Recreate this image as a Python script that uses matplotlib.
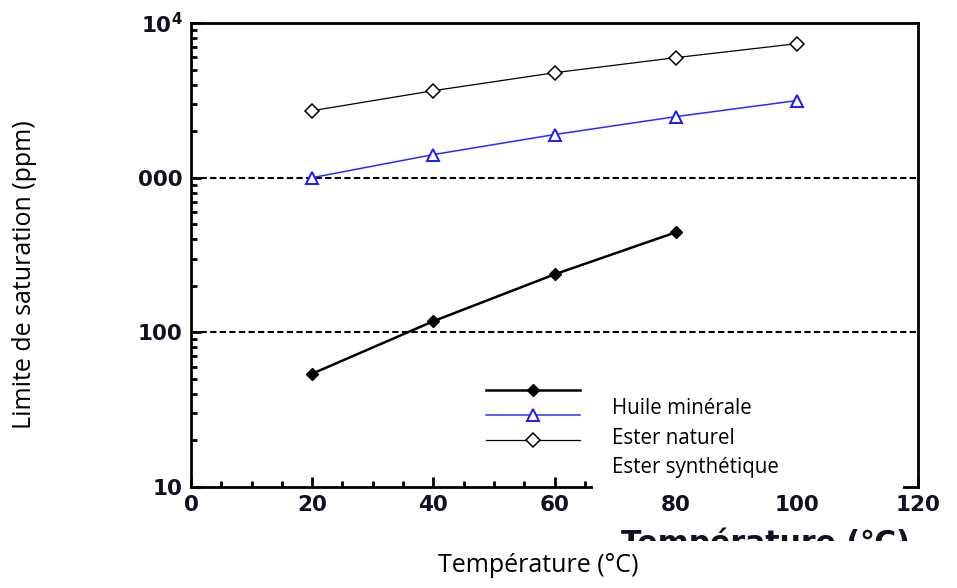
import matplotlib
matplotlib.use("Agg")
import matplotlib.pyplot as plt
from matplotlib.patches import Rectangle
from matplotlib.ticker import FixedLocator, FixedFormatter, MultipleLocator, LogLocator, NullFormatter

# data
temperature = [20, 40, 60, 80, 100]
huile_minerale = [54, 118, 237, 443]          # only up to 80 C
ester_naturel = [1000, 1410, 1900, 2480, 3150]
ester_synthetique = [2710, 3650, 4770, 5970, 7350]

series_labels = ["Huile minérale", "Ester naturel", "Ester synthétique"]
y_ticks = [10, 100, 1000, 10000]
y_ticklabels = ["10", "100", "000", r"$\mathbf{10^4}$"]
x_ticks = [0, 20, 40, 60, 80, 100, 120]

W, H = 957, 588
fig = plt.figure(figsize=(W / 100, H / 100), dpi=100)
ax = fig.add_axes([191 / W, 1 - 487 / H, (918 - 191) / W, (487 - 23) / H])

l1, = ax.plot(temperature[:len(huile_minerale)], huile_minerale, color="black", lw=1.8,
              marker="D", ms=6.5, mfc="black", mec="black")
l2, = ax.plot(temperature, ester_naturel, color="#2b2bff", lw=1.1,
              marker="^", ms=9, mfc="white", mec="#1a1aff", mew=1.4)
l3, = ax.plot(temperature, ester_synthetique, color="black", lw=0.9,
              marker="D", ms=7, mfc="white", mec="black", mew=1.1)

# dashed reference lines
for yv in y_ticks[1:]:
    ax.axhline(yv, color="black", lw=1.5, dashes=(3, 1.6), zorder=1)

ax.set_yscale("log")
ax.set_xlim(0, 120)
ax.set_ylim(10, 10000)
ax.yaxis.set_major_locator(FixedLocator(y_ticks))
ax.yaxis.set_major_formatter(FixedFormatter(y_ticklabels))
ax.yaxis.set_minor_locator(LogLocator(base=10, subs=range(2, 10)))
ax.yaxis.set_minor_formatter(NullFormatter())
ax.xaxis.set_major_locator(FixedLocator(x_ticks))
ax.xaxis.set_minor_locator(MultipleLocator(5))

for sp in ax.spines.values():
    sp.set_linewidth(2.0)
ax.tick_params(which="both", direction="in", top=False, right=False, width=2.0)
ax.tick_params(which="major", length=7, pad=6, labelsize=15.5)
ax.tick_params(which="minor", length=4.5)
for lab in ax.get_xticklabels() + ax.get_yticklabels():
    lab.set_fontweight("bold")
    lab.set_color("#111122")

# legend samples (text is added separately)
leg = ax.legend([l1, l2, l3], ["", "", ""], frameon=False, fontsize=10,
                handlelength=6.8, handletextpad=0, labelspacing=0.78,
                borderpad=0, borderaxespad=0, loc="upper left",
                bbox_to_anchor=(486 / W, 1 - 384 / H), bbox_transform=fig.transFigure)

# white box over part of the old legend and axis
fig.patches.append(Rectangle((593 / W, 1 - 489 / H), (903 - 593) / W, (489 - 383) / H,
                             transform=fig.transFigure, facecolor="white",
                             edgecolor="none", zorder=5))

for i, lab in enumerate(series_labels):
    fig.text(612 / W, 1 - (409 + 29 * i) / H, lab, fontsize=14.8, family="Open Sans",
             va="center", ha="left", zorder=6)

# old bold axis title, cut off at the bottom
fig.text(765 / W, 1 - 552 / H, "Température (℃)", fontsize=21.5, fontweight="bold",
         color="#111122", ha="center", va="baseline", zorder=4)
fig.patches.append(Rectangle((560 / W, 0), (957 - 560) / W, (588 - 541) / H,
                             transform=fig.transFigure, facecolor="white",
                             edgecolor="none", zorder=5))

fig.text(538 / W, 1 - 565 / H, "Température (°C)", fontsize=18, family="Open Sans",
         ha="center", va="center", zorder=7)
fig.text(25 / W, 1 - 275 / H, "Limite de saturation (ppm)", fontsize=18, family="Open Sans",
         rotation=90, ha="center", va="center", zorder=7)

fig.savefig("out.png", dpi=100)
